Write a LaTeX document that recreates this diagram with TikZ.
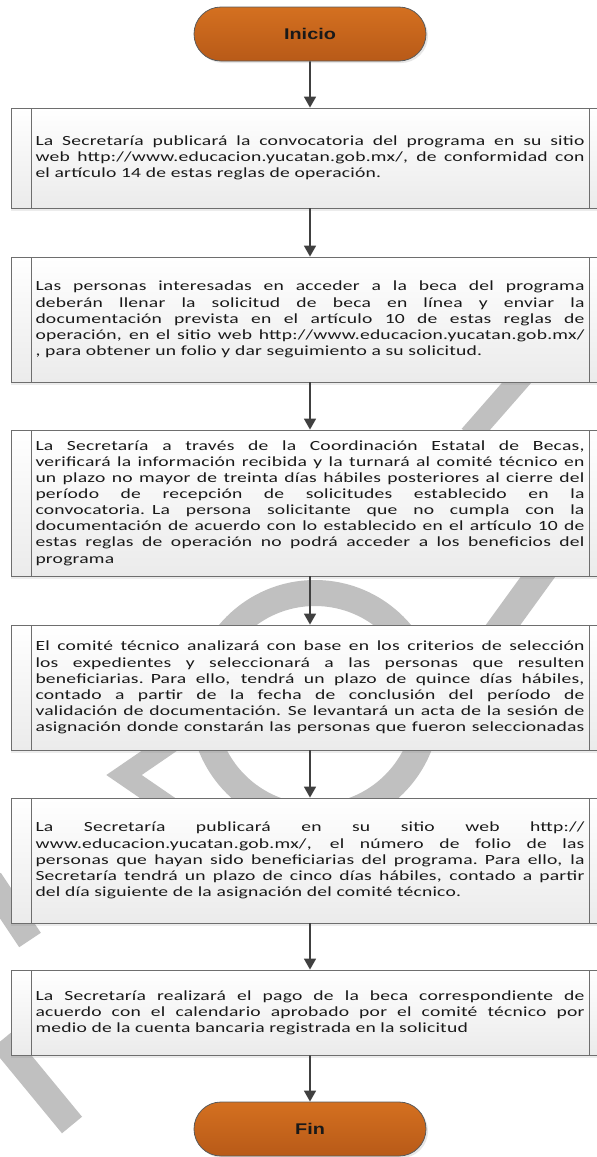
\documentclass[tikz,border=0pt]{standalone}
\usepackage{fontspec}
\setmainfont{Carlito}[FakeStretch=1.4,LetterSpace=1.5]
\newfontfamily\termfont{Liberation Sans}[FakeStretch=1.28]
\usepackage{xcolor}
\usepackage{tikz}
\usetikzlibrary{arrows.meta,positioning,shapes.misc,shadows}
\definecolor{termtop}{RGB}{212,112,32}
\definecolor{termbot}{RGB}{184,90,24}
\definecolor{termline}{RGB}{90,90,90}
\definecolor{boxbot}{RGB}{235,235,235}
\definecolor{boxline}{RGB}{110,110,110}
\definecolor{arrowc}{RGB}{64,64,64}
\definecolor{wmgray}{RGB}{192,192,192}
\newcommand\jl[1]{{\spaceskip=\fontdimen2\font plus 1fil\relax\makebox[549pt][s]{#1}}}
\tikzset{
  term/.style={rounded rectangle,draw=termline,line width=0.8pt,top color=termtop,bottom color=termbot,minimum width=232pt,minimum height=54pt,inner sep=0pt,font=\termfont\bfseries\fontsize{15.5}{18}\selectfont,text=black!90,drop shadow={shadow xshift=2pt,shadow yshift=-2pt,opacity=0.2}},
  proc/.style={draw=boxline,line width=0.8pt,top color=white,bottom color=boxbot,minimum width=598pt,text width=549pt,align=left,inner sep=0pt,font=\fontsize{14}{16.1}\selectfont,text=black!90,drop shadow={shadow xshift=0pt,shadow yshift=-3pt,opacity=0.15},
    path picture={\draw[boxline,line width=0.8pt] ([xshift=20pt]path picture bounding box.north west) -- ([xshift=20pt]path picture bounding box.south west) ([xshift=-20pt]path picture bounding box.north east) -- ([xshift=-20pt]path picture bounding box.south east);}},
  arr/.style={-{Triangle[length=11pt,width=12pt]},draw=arrowc,line width=1.6pt},
  wm/.style={draw=wmgray,line width=26pt},
}
\begin{document}
\begin{tikzpicture}[x=1pt,y=-1pt]
\useasboundingbox (0,0) rectangle (597,1157);
\draw[wm] (315,705) circle[radius=112];
\draw[wm,line width=22pt] (548,347) -- (470,436);
\draw[wm,line width=28pt] (553,556) -- (490,643);
\draw[wm,line width=20pt,miter limit=4] (178,738) -- (124,775) -- (178,812);
\draw[wm] (-10,880) -- (30,940);
\draw[wm] (2,1040) -- (72,1125);
\node[term] (ini) at (310,34) {Inicio};
\node[proc,minimum height=100pt] (b1) at (310,158) {%
\jl{La Secretaría publicará la convocatoria del programa en su sitio}\\
\jl{web http://www.educacion.yucatan.gob.mx/, de conformidad con}\\
el artículo 14 de estas reglas de operación.};
\node[proc,minimum height=125pt] (b2) at (310,319.5) {%
\jl{Las personas interesadas en acceder a la beca del programa}\\
\jl{deberán llenar la solicitud de beca en línea y enviar la}\\
\jl{documentación prevista en el artículo 10 de estas reglas de}\\
\jl{operación, en el sitio web http://www.educacion.yucatan.gob.mx/}\\
, para obtener un folio y dar seguimiento a su solicitud.};
\node[proc,minimum height=146pt] (b3) at (310,503) {%
\jl{La Secretaría a través de la Coordinación Estatal de Becas,}\\
\jl{verificará la información recibida y la turnará al comité técnico en}\\
\jl{un plazo no mayor de treinta días hábiles posteriores al cierre del}\\
\jl{período de recepción de solicitudes establecido en la}\\
\jl{convocatoria. La persona solicitante que no cumpla con la}\\
\jl{documentación de acuerdo con lo establecido en el artículo 10 de}\\
\jl{estas reglas de operación no podrá acceder a los beneficios del}\\
programa};
\node[proc,minimum height=125pt] (b4) at (310,687.5) {%
\jl{El comité técnico analizará con base en los criterios de selección}\\
\jl{los expedientes y seleccionará a las personas que resulten}\\
\jl{beneficiarias. Para ello, tendrá un plazo de quince días hábiles,}\\
\jl{contado a partir de la fecha de conclusión del período de}\\
\jl{validación de documentación. Se levantará un acta de la sesión de}\\
\jl{asignación donde constarán las personas que fueron seleccionadas}};
\node[proc,minimum height=125pt] (b5) at (310,860.5) {%
\jl{La Secretaría publicará en su sitio web http://}\\
\jl{www.educacion.yucatan.gob.mx/, el número de folio de las}\\
\jl{personas que hayan sido beneficiarias del programa. Para ello, la}\\
\jl{Secretaría tendrá un plazo de cinco días hábiles, contado a partir}\\
del día siguiente de la asignación del comité técnico.};
\node[proc,minimum height=85pt] (b6) at (310,1012.5) {%
\jl{La Secretaría realizará el pago de la beca correspondiente de}\\
\jl{acuerdo con el calendario aprobado por el comité técnico por}\\
medio de la cuenta bancaria registrada en la solicitud};
\node[term] (fin) at (310,1129) {Fin};
\foreach \a/\b in {ini/b1,b1/b2,b2/b3,b3/b4,b4/b5,b5/b6,b6/fin}
  \draw[arr] (\a) -- (\b);
\end{tikzpicture}
\end{document}
